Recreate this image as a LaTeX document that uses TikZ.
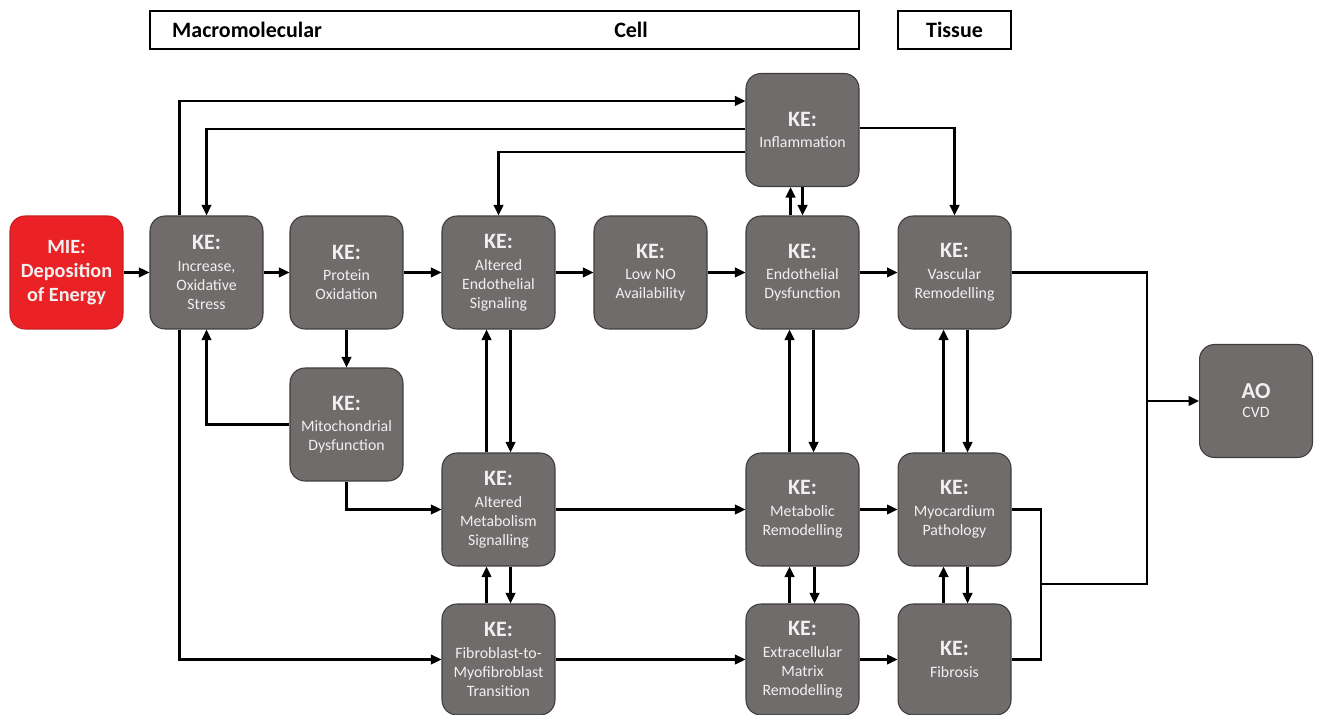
\documentclass[tikz,border=0pt]{standalone}
\usepackage{fontspec}
\setmainfont{Carlito}
\usetikzlibrary{
  arrows.meta,
  calc
}

\definecolor{kegray}{RGB}{112,108,108}
\definecolor{keedge}{RGB}{62,60,60}
\definecolor{kered}{RGB}{234,34,38}
\definecolor{ketext}{RGB}{240,240,240}

\tikzset{
  kebox/.style={draw=keedge, line width=0.6pt, fill=kegray,
    rounded corners=0.3cm, minimum width=2.26cm, minimum height=2.26cm,
    text=ketext, align=center, inner sep=1pt,
    font=\fontsize{9}{10.8}\selectfont},
  miebox/.style={kebox, fill=kered, draw=kered!85!black,
    font=\bfseries\fontsize{11.5}{13.6}\selectfont},
  link/.style={line width=1.35pt},
  arr/.style={link, ->},
  lvl/.style={font=\bfseries\fontsize{12.5}{14}\selectfont}
}
\newcommand{\ke}{{\bfseries\fontsize{12.5}{14}\selectfont KE:}\\[1.5pt]}

\begin{document}
\begin{tikzpicture}[x=0.02cm, y=-0.02cm, >={Triangle[length=0.21cm,width=0.19cm]}]
\useasboundingbox (0,0) rectangle (1317,715);

%--------------------
% levels
%--------------------
\draw[line width=1pt] (150,11) rectangle (859,49);
\draw[line width=1pt] (898,11) rectangle (1011,49);
\node[lvl, anchor=west] (macro) at (166,30) {Macromolecular};
\node[lvl] (cell) at (631,30) {Cell};
\node[lvl] (tissue) at (954.5,30) {Tissue};

%--------------------
% events
%--------------------
\node[miebox] (mie) at (66.5,272.5) {MIE:\\Deposition\\of Energy};

\node[kebox] (inc)   at (206.5,272.5) {\ke Increase,\\Oxidative\\Stress};
\node[kebox] (prot)  at (346.5,272.5) {\ke Protein\\Oxidation};
\node[kebox] (aes)   at (498.5,272.5) {\ke Altered\\Endothelial\\Signaling};
\node[kebox] (lowno) at (650.5,272.5) {\ke Low NO\\Availability};
\node[kebox] (endo)  at (802.5,272.5) {\ke Endothelial\\Dysfunction};
\node[kebox] (vasc)  at (954.5,272.5) {\ke Vascular\\Remodelling};

\node[kebox] (infl)  at (802.5,130) {\ke Inflammation};
\node[kebox] (mito)  at (346.5,424.5) {\ke Mitochondrial\\Dysfunction};

\node[kebox] (ams)    at (498.5,509.5) {\ke Altered\\Metabolism\\Signalling};
\node[kebox] (metrem) at (802.5,509.5) {\ke Metabolic\\Remodelling};
\node[kebox] (myo)    at (954.5,509.5) {\ke Myocardium\\Pathology};

\node[kebox, minimum height=2.22cm] (fmt) at (498.5,659.5) {\ke Fibroblast-to-\\Myofibroblast\\Transition};
\node[kebox, minimum height=2.22cm] (ecm) at (802.5,659.5) {\ke Extracellular\\Matrix\\Remodelling};
\node[kebox, minimum height=2.22cm] (fib) at (954.5,659.5) {\ke Fibrosis};

\node[kebox] (ao) at (1256,401) {{\bfseries\fontsize{13}{15}\selectfont AO}\\CVD};

%--------------------
% main row
%--------------------
\draw[arr] (mie) -- (inc);
\draw[arr] (inc) -- (prot);
\draw[arr] (prot) -- (aes);
\draw[arr] (aes) -- (lowno);
\draw[arr] (lowno) -- (endo);
\draw[arr] (endo) -- (vasc);

% loops over the top (inflammation)
\draw[arr] ($(inc.north)+(-27,0)$) |- ($(infl.west)+(0,-29)$);
\draw[arr] ($(infl.west)+(0,-1)$) -| (inc.north);
\draw[arr] ($(infl.west)+(0,22)$) -| (aes.north);
\draw[arr] ($(infl.east)+(0,-2)$) -| (vasc.north);
\draw[arr] ($(endo.north)+(-12,0)$) -- ($(infl.south)+(-12,0)$);
\draw[arr] (infl.south) -- (endo.north);

% mitochondria and lower branches
\draw[arr] (prot) -- (mito);
\draw[arr] (mito.west) -| (inc.south);
\draw[arr] (mito.south) |- (ams.west);
\draw[arr] ($(inc.south)+(-27,0)$) |- (fmt.west);

%--------------------
% lower rows
%--------------------
\draw[arr] (ams) -- (metrem);
\draw[arr] (metrem) -- (myo);
\draw[arr] (fmt) -- (ecm);
\draw[arr] (ecm) -- (fib);

% two-way links
\draw[arr] ($(ams.north)+(-12,0)$) -- ($(aes.south)+(-12,0)$);
\draw[arr] ($(aes.south)+(12,0)$) -- ($(ams.north)+(12,0)$);
\draw[arr] ($(fmt.north)+(-12,0)$) -- ($(ams.south)+(-12,0)$);
\draw[arr] ($(ams.south)+(12,0)$) -- ($(fmt.north)+(12,0)$);

\draw[arr] ($(metrem.north)+(-13,0)$) -- ($(endo.south)+(-13,0)$);
\draw[arr] ($(endo.south)+(11,0)$) -- ($(metrem.north)+(11,0)$);
\draw[arr] ($(ecm.north)+(-13,0)$) -- ($(metrem.south)+(-13,0)$);
\draw[arr] ($(metrem.south)+(12,0)$) -- ($(ecm.north)+(12,0)$);

\draw[arr] ($(myo.north)+(-11,0)$) -- ($(vasc.south)+(-11,0)$);
\draw[arr] ($(vasc.south)+(13,0)$) -- ($(myo.north)+(13,0)$);
\draw[arr] ($(fib.north)+(-11,0)$) -- ($(myo.south)+(-11,0)$);
\draw[arr] ($(myo.south)+(13,0)$) -- ($(fib.north)+(13,0)$);

%--------------------
% towards the outcome
%--------------------
\coordinate (bus) at (1147,584);
\coordinate (join) at (1041,584);

\draw[link] (vasc.east) -| (bus) -- (join);
\draw[link] (myo.east) -| (join) |- (fib.east);
\draw[arr] (bus |- ao.west) -- (ao.west);

\end{tikzpicture}
\end{document}
